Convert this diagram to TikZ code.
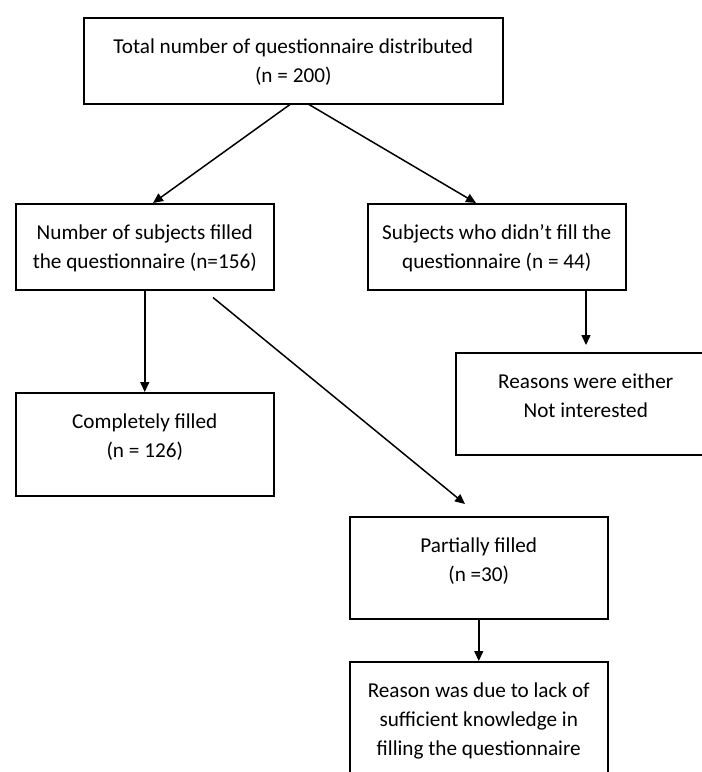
\documentclass[tikz,border=0pt]{standalone}
\usepackage{fontspec}
\setmainfont{Carlito}
\usetikzlibrary{arrows.meta,calc}

\newcommand{\boxtext}[3]{\parbox[t][#2][t]{#1}{\centering\rule{0pt}{18pt}#3}}

\tikzset{
  box/.style={draw, line width=0.75pt, inner sep=0pt, anchor=north west,
    font=\fontsize{10.6}{14.5}\selectfont},
  link/.style={line width=0.75pt, -{Triangle[length=5pt, width=4.5pt]}}
}

\begin{document}
\begin{tikzpicture}[x=0.5pt, y=-0.5pt]
      \useasboundingbox (0,0) rectangle (702,772);
      % boxes
      \node[box] (total) at (83,17) {\boxtext{209.5pt}{43pt}{Total number of questionnaire distributed\\(n = 200)}};
      \node[box] (filled) at (15,203) {\boxtext{129pt}{43pt}{Number of subjects filled\\the questionnaire (n=156)}};
      \node[box] (notfilled) at (367,203) {\boxtext{129pt}{43pt}{Subjects who didn’t fill the\\questionnaire (n = 44)}};
      \node[box] (reasons) at (455,352) {\boxtext{130pt}{51pt}{Reasons were either\\Not interested}};
      \node[box] (complete) at (15,392) {\boxtext{129pt}{51.5pt}{Completely filled\\(n = 126)}};
      \node[box] (partial) at (349,516) {\boxtext{129pt}{51pt}{Partially filled\\(n =30)}};
      \node[box] (lack) at (349,661) {\boxtext{129pt}{70pt}{Reason was due to lack of\\sufficient knowledge in\\filling the questionnaire}};
      % arrows
      \draw[link] ($(total.south west)+(207,0)$) -- ($(filled.north west)+(138,0)$);
      \draw[link] ($(total.south west)+(226,0)$) -- ($(notfilled.north west)+(109,0)$);
      \draw[link] ($(notfilled.south west)+(219,0)$) -- ($(reasons.north west)+(131,-7)$);
      \draw[link] (filled.south) -- (complete.north);
      \draw[link] ($(filled.south west)+(198,7)$) -- ($(partial.north west)+(116,-12)$);
      \draw[link] (partial.south) -- (lack.north);
\end{tikzpicture}
\end{document}
